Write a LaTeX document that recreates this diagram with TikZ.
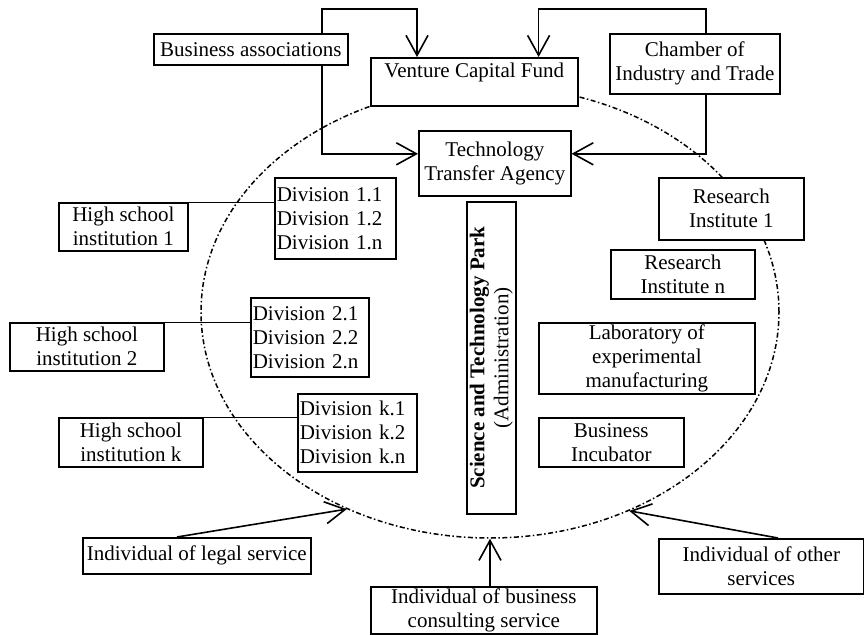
\documentclass[tikz,border=0pt]{standalone}
\usepackage{fontspec}
\setmainfont{Liberation Serif}
\usetikzlibrary{arrows.meta,shapes.geometric,calc}
\begin{document}
\begin{tikzpicture}[x=1pt,y=-1pt,
  every node/.style={font=\fontsize{21}{24}\selectfont},
  box/.style={draw,line width=1.6pt,fill=white,align=center,inner sep=0pt,anchor=north west},
  divbox/.style={draw,line width=1.6pt,fill=white,align=left,inner xsep=2pt,inner ysep=0pt,anchor=north west},
  arr/.style={line width=1.6pt,-{Straight Barb[length=20pt,width=22pt]}},
  link/.style={line width=1pt},
  park/.style={draw,ellipse,line width=1.5pt,dash pattern=on 5pt off 2.5pt on 1.5pt off 2.5pt,inner sep=0pt}
]
\useasboundingbox (0,0) rectangle (864,634);
\node[park,minimum width=578pt,minimum height=452pt] (park) at (490,312) {};

\node[box,minimum width=194pt,minimum height=31pt] (ba) at (153,33) {Business associations};
\node[box,minimum width=207pt,minimum height=48pt] (vcf) at (370,57) {};
\node[anchor=north,inner sep=0pt] (vcft) at ([yshift=-6pt]vcf.north) {Venture Capital Fund};
\node[box,minimum width=170pt,minimum height=60pt] (ch) at (609,33) {Chamber of\\Industry and Trade};
\node[box,minimum width=152pt,minimum height=65pt] (tta) at (418,130) {Technology\\Transfer Agency};

\node[divbox,text width=117pt,minimum height=81pt] (d1) at (274,177) {Division 1.1\\Division 1.2\\Division 1.n};
\node[divbox,text width=114pt,minimum height=79pt] (d2) at (250,297) {Division 2.1\\Division 2.2\\Division 2.n};
\node[divbox,text width=115pt,minimum height=78pt] (dk) at (297,393) {Division k.1\\Division k.2\\Division k.n};

\node[box,minimum width=129pt,minimum height=48pt] (h1) at (58,202) {High school\\institution 1};
\node[box,minimum width=154pt,minimum height=48pt] (h2) at (9,322) {High school\\institution 2};
\node[box,minimum width=144pt,minimum height=49pt] (hk) at (58,417) {High school\\institution k};

\node[box,minimum width=145pt,minimum height=62pt] (r1) at (658,177) {Research\\Institute 1};
\node[box,minimum width=144pt,minimum height=49pt] (rn) at (610,249) {Research\\Institute n};
\node[box,minimum width=216pt,minimum height=71pt] (lab) at (538,322) {Laboratory of\\experimental\\manufacturing};
\node[box,minimum width=145pt,minimum height=49pt] (bi) at (538,417) {Business\\Incubator};

\node[box,minimum width=49pt,minimum height=312pt] (sci) at (466,201) {};
\node[rotate=90,align=center,inner sep=0pt] (scit) at (sci.center) {\textbf{Science and Technology Park}\\(Administration)};

\node[box,minimum width=228pt,minimum height=36pt] (legal) at (82,537) {Individual of legal service};
\node[box,minimum width=226pt,minimum height=47pt] (cons) at (370,586) {Individual of business\\consulting service};
\node[box,minimum width=205pt,minimum height=55pt] (oth) at (658,538) {Individual of other\\services};

\coordinate (ja) at (322,9);
\coordinate (jb) at (706,9);
\draw[arr] (ba.north -| ja) -- (ja) -| ([xshift=47pt]vcf.north west);
\draw[arr] (ba.south -| ja) |- ([yshift=9.5pt]tta.west);
\draw[arr] (ch.north -| jb) -- (jb) -| ([xshift=-40pt]vcf.north east);
\draw[arr] (ch.south -| jb) |- ([yshift=9.5pt]tta.east);

\draw[link] (h1.north east) -- (h1.north east -| d1.west);
\draw[link] (h2.north east) -- (h2.north east -| d2.west);
\draw[link] (hk.north east) -- (hk.north east -| dk.west);

\draw[arr] ([xshift=95pt]legal.north west) -- (park.234.6);
\draw[arr] (cons.north -| park.south) -- (park.south);
\draw[arr] ([xshift=120pt]oth.north west) -- (park.305.4);
\end{tikzpicture}
\end{document}
